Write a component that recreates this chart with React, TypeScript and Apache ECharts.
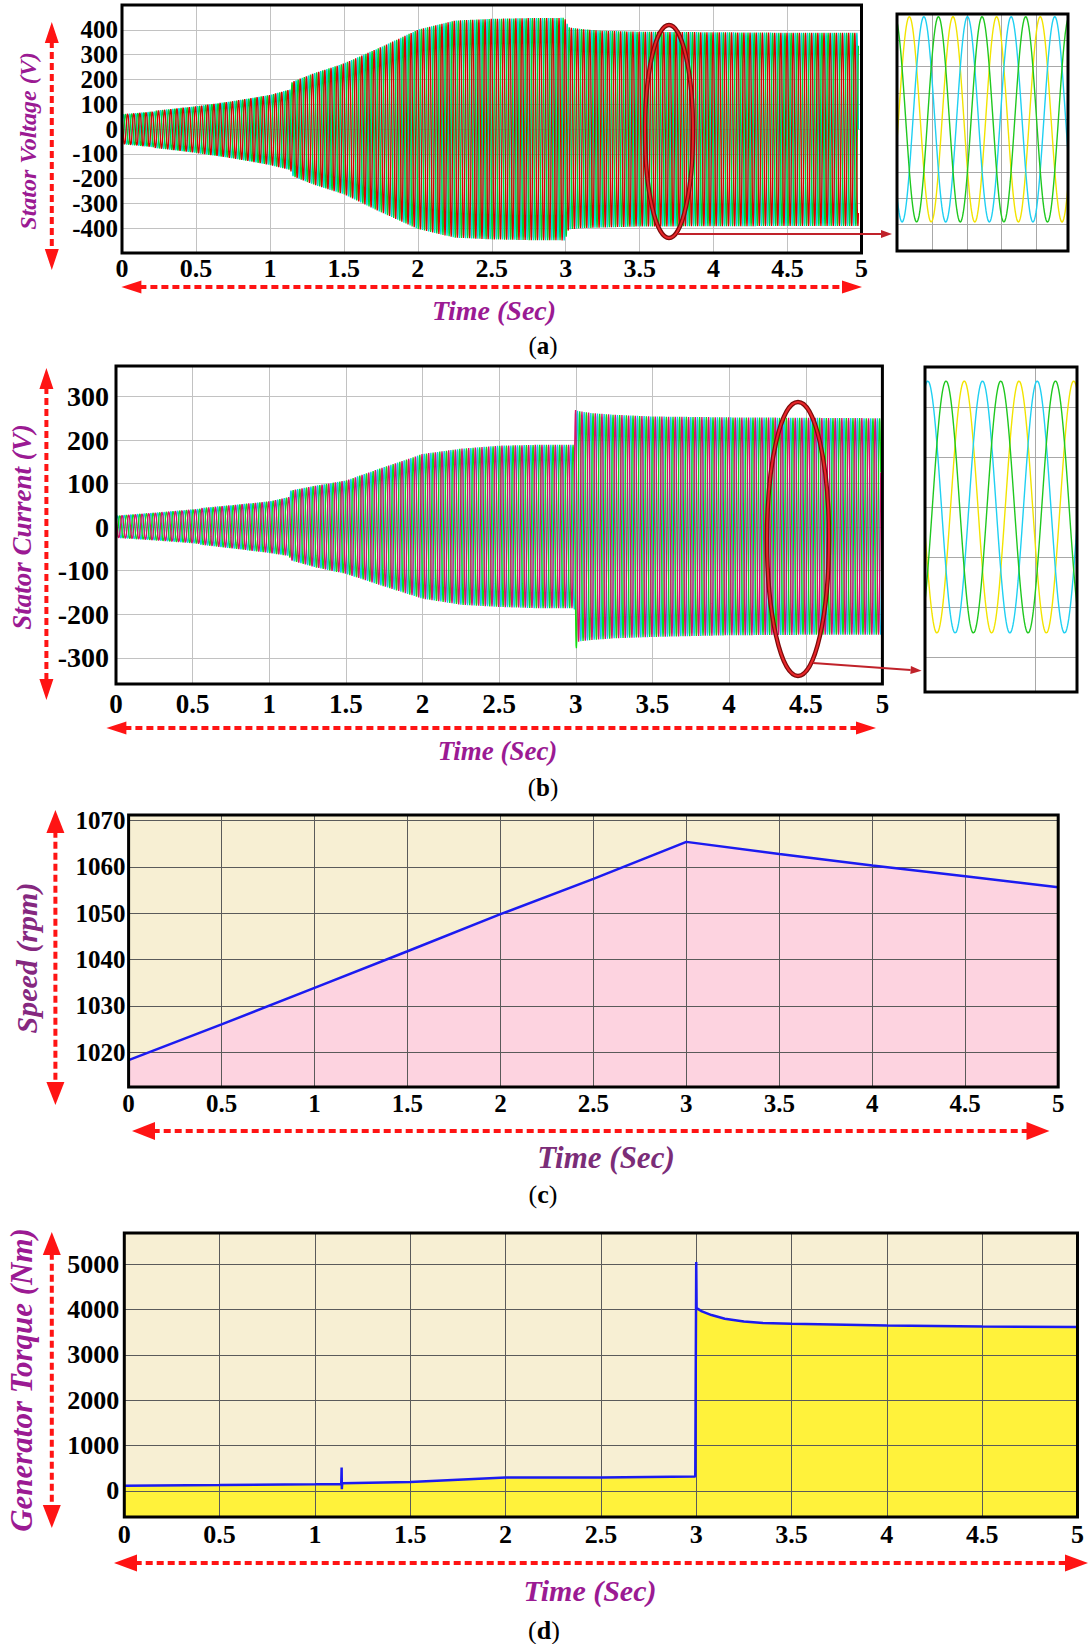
import React, { useEffect, useRef } from "react";
import * as echarts from "echarts";

// ---------------- Data ----------------
// (a) Stator voltage – envelope (V) of the three-phase waveform
const voltEnvTime = [0, 0.25, 0.5, 0.75, 1.0, 1.14, 1.15, 1.3, 1.5, 1.75, 2.0, 2.25, 2.5, 2.75, 2.99, 3.0, 3.02, 3.1, 3.25, 3.5, 4.0, 4.5, 4.98];
const voltEnvUpper = [61, 75, 91, 112, 137, 160, 190, 225, 264, 330, 400, 437, 444, 447, 448, 440, 410, 403, 396, 392, 390, 388, 388];
const voltEnvLower = [-63, -78, -96, -118, -145, -165, -189, -225, -263, -335, -403, -438, -445, -448, -449, -440, -405, -400, -397, -393, -392, -391, -391];
const voltFreqHz = 24;

// (b) Stator current – envelope of the three-phase waveform
const currEnvTime = [0, 0.25, 0.5, 0.75, 1.0, 1.13, 1.14, 1.3, 1.5, 1.75, 2.0, 2.25, 2.5, 2.75, 2.99, 3.0, 3.01, 3.1, 3.25, 3.5, 4.0, 4.5, 4.99];
const currEnvUpper = [27, 34, 42, 50, 59, 69, 84, 95, 107, 138, 168, 180, 187, 189, 189, 298, 267, 262, 258, 254, 252, 251, 250];
const currEnvLower = [-25, -31, -38, -48, -59, -66, -76, -92, -107, -136, -164, -178, -183, -186, -186, -286, -263, -259, -255, -252, -248, -247, -247];
const currFreqHz = 23;

// (c) Speed (rpm)
const speedTime = [0, 0.5, 1, 1.5, 2, 2.5, 3, 3.5, 4, 4.5, 5];
const speedRpm = [1018.3, 1026, 1033.9, 1041.8, 1049.8, 1057.4, 1065.4, 1062.8, 1060.3, 1058, 1055.6];

// (d) Generator torque (Nm)
const torqueTime = [0, 0.5, 1.0, 1.138, 1.14, 1.141, 1.143, 1.5, 2.0, 2.5, 2.995, 3.0, 3.002, 3.03, 3.08, 3.15, 3.25, 3.35, 3.5, 4.0, 4.5, 5.0];
const torqueNm = [117, 130, 148, 155, 514, 37, 170, 199, 294, 294, 316, 5048, 4033, 3960, 3880, 3800, 3740, 3705, 3686, 3649, 3627, 3614];

// Zoomed insets: steady-state peak, period and first peak position (inset units)
const insetVAmp = 390, insetVPeriod = 1.25, insetVPeak0 = 0.354, insetVSpan = 4.9;
const insetIAmp = 252, insetIPeriod = 0.496, insetIPeak0 = 0.356, insetISpan = 1.378;

// Tick labels of the time axes
const timeLabels = ["0", "0.5", "1", "1.5", "2", "2.5", "3", "3.5", "4", "4.5", "5"];

// ---------------- Layout / style ----------------
const F = '"Liberation Serif", "Times New Roman", serif';
const GRIDS = [
  { left: 122, top: 5, width: 739.5, height: 248 },
  { left: 116, top: 366, width: 766.4, height: 318 },
  { left: 128.6, top: 815, width: 929.6, height: 272 },
  { left: 124.3, top: 1233, width: 953.2, height: 284 },
  { left: 897, top: 14, width: 171, height: 237 },
  { left: 925, top: 367, width: 152, height: 325 },
];
const GRID_BG = ["#ffffff", "#ffffff", "#f7efd3", "#f7efd3", "#ffffff", "#ffffff"];
const PURPLE = "#9b1a93";
const RED = "#ff1414";

function interp(xs: number[], ys: number[], x: number) {
  if (x <= xs[0]) return ys[0];
  for (let i = 1; i < xs.length; i++) {
    if (x <= xs[i]) {
      const f = (x - xs[i - 1]) / (xs[i] - xs[i - 1]);
      return ys[i - 1] + f * (ys[i] - ys[i - 1]);
    }
  }
  return ys[ys.length - 1];
}

function threePhase(envT: number[], up: number[], lo: number[], hz: number, spc: number) {
  const tEnd = envT[envT.length - 1];
  const n = Math.floor(tEnd * hz * spc);
  const out: number[][][] = [[], [], []];
  for (let i = 0; i <= n; i++) {
    const t = i / (hz * spc);
    const u = interp(envT, up, t);
    const l = interp(envT, lo, t);
    const mid = (u + l) / 2;
    const half = (u - l) / 2;
    for (let k = 0; k < 3; k++) {
      out[k].push([t, mid + half * Math.sin(2 * Math.PI * hz * t - (k * 2 * Math.PI) / 3)]);
    }
  }
  return out;
}

function insetWaves(amp: number, period: number, peak0: number, span: number) {
  const out: number[][][] = [[], [], []];
  const n = 240;
  for (let i = 0; i <= n; i++) {
    const x = (span * i) / n;
    for (let k = 0; k < 3; k++) {
      out[k].push([x, amp * Math.cos((2 * Math.PI * (x - peak0 - (k * period) / 3)) / period)]);
    }
  }
  return out;
}

function xAx(gi: number, min: number, max: number, interval: number, fs: number, margin: number, grid: string, z: number, show = true) {
  return {
    type: "value", gridIndex: gi, min, max, interval, z,
    axisLine: { show: false }, axisTick: { show: false },
    splitLine: { show: true, lineStyle: { color: grid, width: 1 } },
    axisLabel: { show, fontFamily: F, fontWeight: "bold", fontSize: fs, color: "#000", margin,
      formatter: (v: number) => { const i = Math.round(v * 2); return i >= 0 && i < timeLabels.length && Math.abs(v * 2 - i) < 1e-6 ? timeLabels[i] : String(v); } },
  };
}
function yAx(gi: number, min: number, max: number, extra: any, fs: number, margin: number, grid: string, z: number, show = true) {
  return {
    type: "value", gridIndex: gi, min, max, z, ...extra,
    axisLine: { show: false }, axisTick: { show: false },
    splitLine: { show: true, lineStyle: { color: grid, width: 1 } },
    axisLabel: { show, fontFamily: F, fontWeight: "bold", fontSize: fs, color: "#000", margin, showMinLabel: false, showMaxLabel: false,
      formatter: (v: number) => String(Math.round(v)) },
  };
}

function dashedArrow(x1: number, y1: number, x2: number, y2: number, head: number, half: number) {
  const dx = x2 - x1, dy = y2 - y1, L = Math.hypot(dx, dy);
  const ux = dx / L, uy = dy / L, px = -uy, py = ux;
  return [
    { type: "line", z: 100, shape: { x1: x1 + ux * head * 0.9, y1: y1 + uy * head * 0.9, x2: x2 - ux * head * 0.9, y2: y2 - uy * head * 0.9 },
      style: { stroke: RED, lineWidth: 4, lineDash: [7, 4] } },
    { type: "polygon", z: 100, shape: { points: [[x1, y1], [x1 + ux * head + px * half, y1 + uy * head + py * half], [x1 + ux * head - px * half, y1 + uy * head - py * half]] }, style: { fill: RED } },
    { type: "polygon", z: 100, shape: { points: [[x2, y2], [x2 - ux * head + px * half, y2 - uy * head + py * half], [x2 - ux * head - px * half, y2 - uy * head - py * half]] }, style: { fill: RED } },
  ];
}

function solidArrow(x1: number, y1: number, x2: number, y2: number) {
  const dx = x2 - x1, dy = y2 - y1, L = Math.hypot(dx, dy);
  const ux = dx / L, uy = dy / L, px = -uy, py = ux;
  const head = 11, half = 4;
  return [
    { type: "line", z: 100, shape: { x1, y1, x2: x2 - ux * head, y2: y2 - uy * head }, style: { stroke: "#c0222a", lineWidth: 2 } },
    { type: "polygon", z: 100, shape: { points: [[x2, y2], [x2 - ux * head + px * half, y2 - uy * head + py * half], [x2 - ux * head - px * half, y2 - uy * head - py * half]] }, style: { fill: "#c0222a" } },
  ];
}

function ellipse(cx: number, cy: number, rx: number, ry: number) {
  return [
    { type: "ellipse", z: 100, shape: { cx, cy, rx, ry }, style: { fill: "none", stroke: "#7a0b0b", lineWidth: 4.5 } },
    { type: "ellipse", z: 101, shape: { cx, cy, rx, ry }, style: { fill: "none", stroke: "#e8262a", lineWidth: 2 } },
  ];
}

function txt(x: number, y: number, text: string, size: number, color: string, rot = 0) {
  return { type: "text", x, y, rotation: rot, z: 100,
    style: { text, fontFamily: F, fontSize: size, fontWeight: "bold", fontStyle: "italic", fill: color, align: "center", verticalAlign: "middle" } };
}
function panelLabel(x: number, y: number, letter: string, size: number) {
  return { type: "text", x, y, z: 100,
    style: { text: "({b|" + letter + "})", fontFamily: F, fontSize: size, fill: "#000", align: "center", verticalAlign: "middle",
      rich: { b: { fontFamily: F, fontSize: size, fontWeight: "bold", fill: "#000" } } } };
}

function buildOption() {
  const volt = threePhase(voltEnvTime, voltEnvUpper, voltEnvLower, voltFreqHz, 24);
  const curr = threePhase(currEnvTime, currEnvUpper, currEnvLower, currFreqHz, 24);
  const insV = insetWaves(insetVAmp, insetVPeriod, insetVPeak0, insetVSpan);
  const insI = insetWaves(insetIAmp, insetIPeriod, insetIPeak0, insetISpan);
  const speed = speedTime.map((t, i) => [t, speedRpm[i]]);
  const torque = torqueTime.map((t, i) => [t, torqueNm[i]]);

  // drawing order: cyan, green, red (red on top)
  const voltColors = ["#00dcd4", "#00d22a", "#d80000"];
  const currColors = ["#18bff0", "#10dc10", "#d8106a"];
  const insetColors = ["#f2e400", "#1fd0f2", "#1fc81f"];

  const line = (i: number, data: number[][], color: string, width: number, z = 2) => ({
    type: "line", xAxisIndex: i, yAxisIndex: i, data, showSymbol: false, symbol: "none", silent: true,
    lineStyle: { color, width }, z, animation: false,
  });

  const series: any[] = [];
  volt.forEach((d, k) => series.push(line(0, d, voltColors[k], 1.3)));
  curr.forEach((d, k) => series.push(line(1, d, currColors[k], 1.3)));
  series.push({ ...line(2, speed, "#fdd3e0", 0, 1), areaStyle: { color: "#fdd3e0", origin: "start", opacity: 1 } });
  series.push(line(2, speed, "#1b1bf0", 2.5, 5));
  series.push({ ...line(3, torque, "#fff23b", 0, 1), areaStyle: { color: "#fff23b", origin: "start", opacity: 1 } });
  series.push(line(3, torque, "#1b1bf0", 2.5, 5));
  insV.forEach((d, k) => series.push(line(4, d, insetColors[k], 1.4)));
  insI.forEach((d, k) => series.push(line(5, d, insetColors[k], 1.4)));

  const lightGrid = "#c2c2c2";
  const darkGrid = "#5a5a5a";
  const xAxis = [
    xAx(0, 0, 5, 0.5, 26, 2, lightGrid, 0),
    xAx(1, 0, 5, 0.5, 27, 6, lightGrid, 0),
    xAx(2, 0, 5, 0.5, 25, 4, darkGrid, 3),
    xAx(3, 0, 5, 0.5, 26, 4, darkGrid, 3),
    xAx(4, 0, insetVSpan, 1, 10, 2, "#a8a8a8", 0, false),
    xAx(5, 0, insetISpan, 1, 10, 2, "#a8a8a8", 0, false),
  ];
  const yAxis = [
    yAx(0, -500, 500, { interval: 100 }, 25, 4, lightGrid, 0),
    yAx(1, -360, 370, { splitNumber: 7 }, 28, 7, lightGrid, 0),
    yAx(2, 1012.5, 1071.2, { splitNumber: 6 }, 25, 3, darkGrid, 3),
    yAx(3, -575, 5690, { splitNumber: 6 }, 26, 5, darkGrid, 3),
    yAx(4, -500, 400, { interval: 100 }, 10, 2, "#a8a8a8", 0, false),
    yAx(5, -370, 280, { splitNumber: 6 }, 10, 2, "#a8a8a8", 0, false),
  ];

  const graphic: any[] = [];
  GRIDS.forEach((g) => graphic.push({ type: "rect", z: 90, shape: { x: g.left, y: g.top, width: g.width, height: g.height }, style: { fill: "none", stroke: "#000", lineWidth: 3 } }));
  // red dashed axis arrows
  graphic.push(...dashedArrow(51.8, 22, 51.8, 270, 21, 7));
  graphic.push(...dashedArrow(121.4, 287, 862, 287, 20, 6.5));
  graphic.push(...dashedArrow(46.4, 368, 46.4, 700, 21, 7));
  graphic.push(...dashedArrow(106.4, 728, 876, 728, 20, 6.5));
  graphic.push(...dashedArrow(55.4, 810, 55.4, 1105, 23, 9));
  graphic.push(...dashedArrow(132, 1131, 1049.5, 1131, 23, 9));
  graphic.push(...dashedArrow(51.8, 1232, 51.8, 1528, 23, 9));
  graphic.push(...dashedArrow(114, 1563, 1088, 1563, 23, 8.5));
  // zoom ellipses and arrows
  graphic.push(...ellipse(669, 131.5, 24, 106.5));
  graphic.push(...solidArrow(678, 234, 892, 234));
  graphic.push(...ellipse(798, 539, 31, 137));
  graphic.push(...solidArrow(813, 663, 921.6, 670.7));
  // axis titles
  graphic.push(txt(27.5, 141, "Stator Voltage (V)", 24, PURPLE, Math.PI / 2));
  graphic.push(txt(21.5, 527, "Stator Current (V)", 27, PURPLE, Math.PI / 2));
  graphic.push(txt(26.8, 958, "Speed (rpm)", 30, "#85287f", Math.PI / 2));
  graphic.push(txt(21.5, 1380, "Generator Torque (Nm)", 31, PURPLE, Math.PI / 2));
  graphic.push(txt(494, 310, "Time (Sec)", 28, PURPLE));
  graphic.push(txt(497.5, 751, "Time (Sec)", 27, PURPLE));
  graphic.push(txt(606, 1157, "Time (Sec)", 31, "#7b2d78"));
  graphic.push(txt(590, 1590, "Time (Sec)", 30, PURPLE));
  // panel labels
  graphic.push(panelLabel(543, 345, "a", 25));
  graphic.push(panelLabel(543, 787, "b", 25));
  graphic.push(panelLabel(543, 1194, "c", 26));
  graphic.push(panelLabel(544, 1630, "d", 26));

  return {
    animation: false,
    backgroundColor: "#ffffff",
    grid: GRIDS.map((g, i) => ({ ...g, show: true, backgroundColor: GRID_BG[i], borderWidth: 0, containLabel: false })),
    xAxis,
    yAxis,
    series,
    graphic,
  };
}

export default function App() {
  const ref = useRef<HTMLDivElement>(null);
  useEffect(() => {
    if (!ref.current) return;
    const chart = echarts.init(ref.current, undefined, { renderer: "svg" });
    chart.setOption(buildOption() as any);
    return () => chart.dispose();
  }, []);
  return <div ref={ref} style={{ position: "absolute", left: 0, top: 0, width: 1089, height: 1644, background: "#fff" }} />;
}
